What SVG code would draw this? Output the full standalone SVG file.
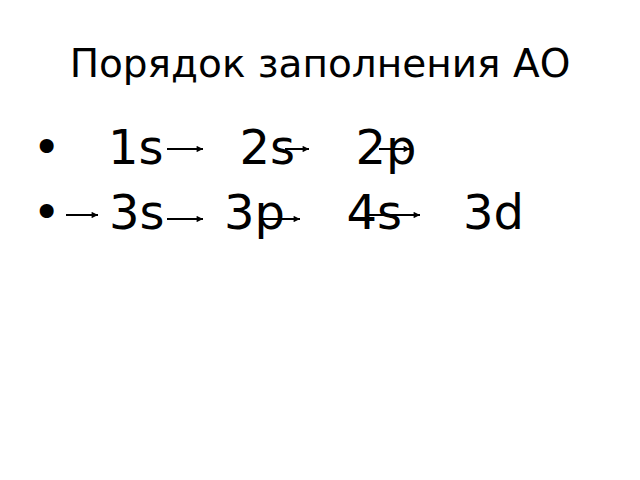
<svg xmlns="http://www.w3.org/2000/svg" width="640" height="480" viewBox="0 0 640 480">
  <style>
    text { font-family: "DejaVu Sans", "Noto Sans", sans-serif; fill: #000; }
    .title { font-size: 39px; }
    .item { font-size: 48px; }
    .arrow { stroke: #000; stroke-width: 2; fill: none; marker-end: url(#ah); }
  </style>
  <defs>
    <marker id="ah" viewBox="0 0 10 10" refX="10" refY="5" markerWidth="3.6" markerHeight="3.2" orient="auto" markerUnits="strokeWidth">
      <path d="M0,0 L10,5 L0,10 Z" fill="#000"/>
    </marker>
  </defs>
  <rect width="640" height="480" fill="#fff"/>
  <g id="title">
    <text class="title" x="320" y="77" text-anchor="middle">Порядок заполнения АО</text>
  </g>
  <g id="row1">
    <text class="item" x="32.5" y="164">•</text>
    <text class="item" x="108" y="164">1s</text>
    <text class="item" x="239.5" y="164">2s</text>
    <text class="item" x="355.5" y="164">2p</text>
  </g>
  <g id="row2">
    <text class="item" x="32.5" y="229">•</text>
    <text class="item" x="109" y="229">3s</text>
    <text class="item" x="224" y="229">3p</text>
    <text class="item" x="346.5" y="229">4s</text>
    <text class="item" x="463" y="229">3d</text>
  </g>
  <g id="connectors">
    <line class="arrow" x1="167" y1="149" x2="203" y2="149"/>
    <line class="arrow" x1="285" y1="149" x2="309" y2="149"/>
    <line class="arrow" x1="379" y1="149" x2="410" y2="149"/>
    <line class="arrow" x1="66" y1="215" x2="98" y2="215"/>
    <line class="arrow" x1="167" y1="219" x2="203" y2="219"/>
    <line class="arrow" x1="263" y1="219" x2="300" y2="219"/>
    <line class="arrow" x1="366" y1="215" x2="420" y2="215"/>
  </g>
</svg>
